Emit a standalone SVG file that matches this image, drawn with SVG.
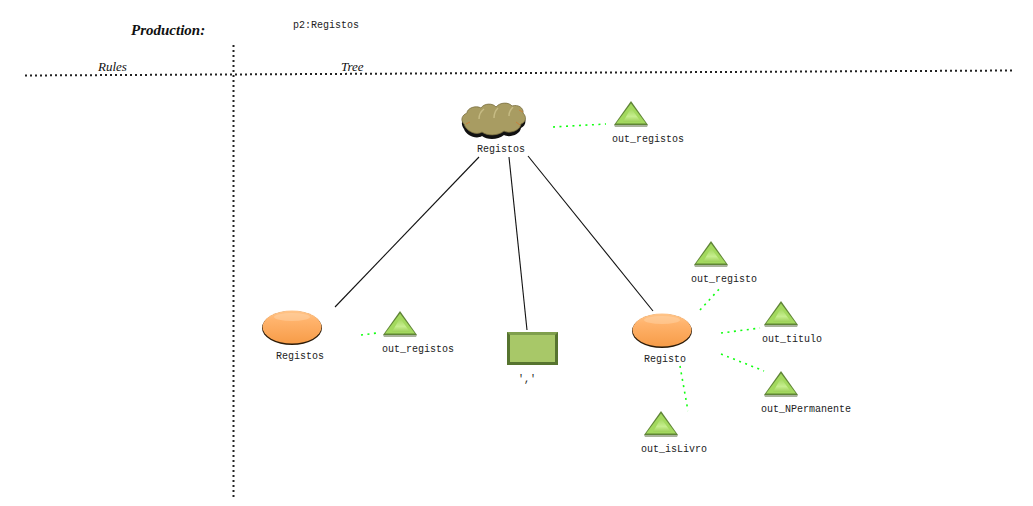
<svg xmlns="http://www.w3.org/2000/svg" width="1033" height="506" viewBox="0 0 1033 506">
<style>
.m{font-family:"Liberation Mono",monospace;font-size:10px;fill:#222;text-anchor:middle}
.s{font-family:"Liberation Serif",serif;font-style:italic;fill:#111}
.d{fill:none;stroke:#222;stroke-width:2;stroke-dasharray:2 3}
.g{fill:none;stroke:#1f1;stroke-width:1.6;stroke-dasharray:2 4.500}
.l{fill:none;stroke:#111;stroke-width:1.1}
</style>
<defs>
<linearGradient id="o" x1="0" y1="0" x2="0" y2="1"><stop offset="0" stop-color="#ffc58a"/><stop offset=".3" stop-color="#ffb36c"/><stop offset="1" stop-color="#f79c48"/></linearGradient>
<linearGradient id="t" x1="0" y1="0" x2="0" y2="1"><stop offset="0" stop-color="#9fd45a"/><stop offset=".6" stop-color="#c6ee8e"/><stop offset="1" stop-color="#9ccf58"/></linearGradient>
<g id="tri"><path d="M17 0L34 24H0Z" fill="#5f8436"/><path d="M17 2.500L32 22.500H2Z" fill="#a3d95e"/><path d="M17 7L27 21H9Z" fill="url(#t)"/><path d="M0 24H34L33 26H1Z" fill="#a9b39c"/></g>
<g id="ell"><ellipse cx="0" cy="1" rx="30" ry="17" fill="#2a1a08"/><ellipse cx="0" cy="0" rx="29.500" ry="16.500" fill="url(#o)"/><ellipse cx="0" cy="-10" rx="18" ry="4" fill="#ffd7ae" opacity=".45"/></g>
</defs>
<g id="labels">
<text class="s" x="131" y="35" font-size="15" font-weight="700">Production:</text>
<text class="m" x="326" y="28">p2:Registos</text>
<text class="s" x="98" y="71" font-size="13">Rules</text>
<text class="s" x="341" y="71" font-size="13">Tree</text>
</g>
<g id="connectors">
<path class="d" d="M25 75.500L1012 70.500"/>
<path class="d" d="M233.500 45V498"/>
<path class="l" d="M479 157L335 307"/>
<path class="l" d="M509 157L527 330"/>
<path class="l" d="M528 156L653 311"/>
<path class="g" d="M553 127L606 124"/>
<path class="g" d="M361 335L377 333"/>
<path class="g" d="M700 310L722 286"/>
<path class="g" d="M721 333L760 328"/>
<path class="g" d="M721 354L764 371"/>
<path class="g" d="M680 366L688 411"/>
</g>
<g id="n-registos-root">
<path d="M464 127C460 122 462 116 467 114C467 108 476 105 481 108C484 103 493 103 496 107C500 102 509 102 512 106C518 104 524 108 523 113C527 117 526 124 521 126C520 133 509 136 504 133C498 138 487 138 482 134C476 138 466 133 464 127Z" fill="#111" transform="translate(0 2)"/>
<path d="M464 124C460 120 462 115 467 113C467 108 476 105 481 108C484 103 493 103 496 107C500 102 509 102 512 106C518 104 524 108 523 113C527 117 526 122 521 124C520 131 509 134 504 131C498 136 487 136 482 132C476 136 466 131 464 124Z" fill="#a89c62" stroke="#7a6f40" stroke-width=".8"/>
<path d="M484 109C480 112 479 116 479 119M498 108C495 111 494 114 494 118M513 107C510 110 509 113 509 116" fill="none" stroke="#c6bb84" stroke-width="1.500"/>
<path d="M519 110L523 112M516 122L520 125M466 124L470 122" fill="none" stroke="#c9803c" stroke-width="1"/>
<text class="m" x="501" y="152">Registos</text>
</g>
<g id="n-out-registos-root"><use href="#tri" x="614" y="101"/><text class="m" x="648" y="142">out_registos</text></g>
<g id="n-registos"><use href="#ell" x="292" y="327"/><text class="m" x="300" y="359">Registos</text></g>
<g id="n-out-registos"><use href="#tri" x="383" y="311"/><text class="m" x="418" y="352">out_registos</text></g>
<g id="n-comma">
<rect x="507" y="332" width="51" height="33" fill="#56742f"/>
<path d="M507 332H558L555 335H510Z" fill="#7f9f4c"/>
<rect x="510" y="335" width="45" height="27" fill="#a8c868"/>
<text class="m" x="527" y="382">','</text>
</g>
<g id="n-registo"><use href="#ell" x="662" y="330"/><text class="m" x="665" y="362">Registo</text></g>
<g id="n-out-registo"><use href="#tri" x="694" y="241"/><text class="m" x="724" y="282">out_registo</text></g>
<g id="n-out-titulo"><use href="#tri" x="764" y="301"/><text class="m" x="792" y="342">out_titulo</text></g>
<g id="n-out-npermanente"><use href="#tri" x="764" y="371"/><text class="m" x="806" y="412">out_NPermanente</text></g>
<g id="n-out-islivro"><use href="#tri" x="644" y="411"/><text class="m" x="674" y="452">out_isLivro</text></g>
</svg>
